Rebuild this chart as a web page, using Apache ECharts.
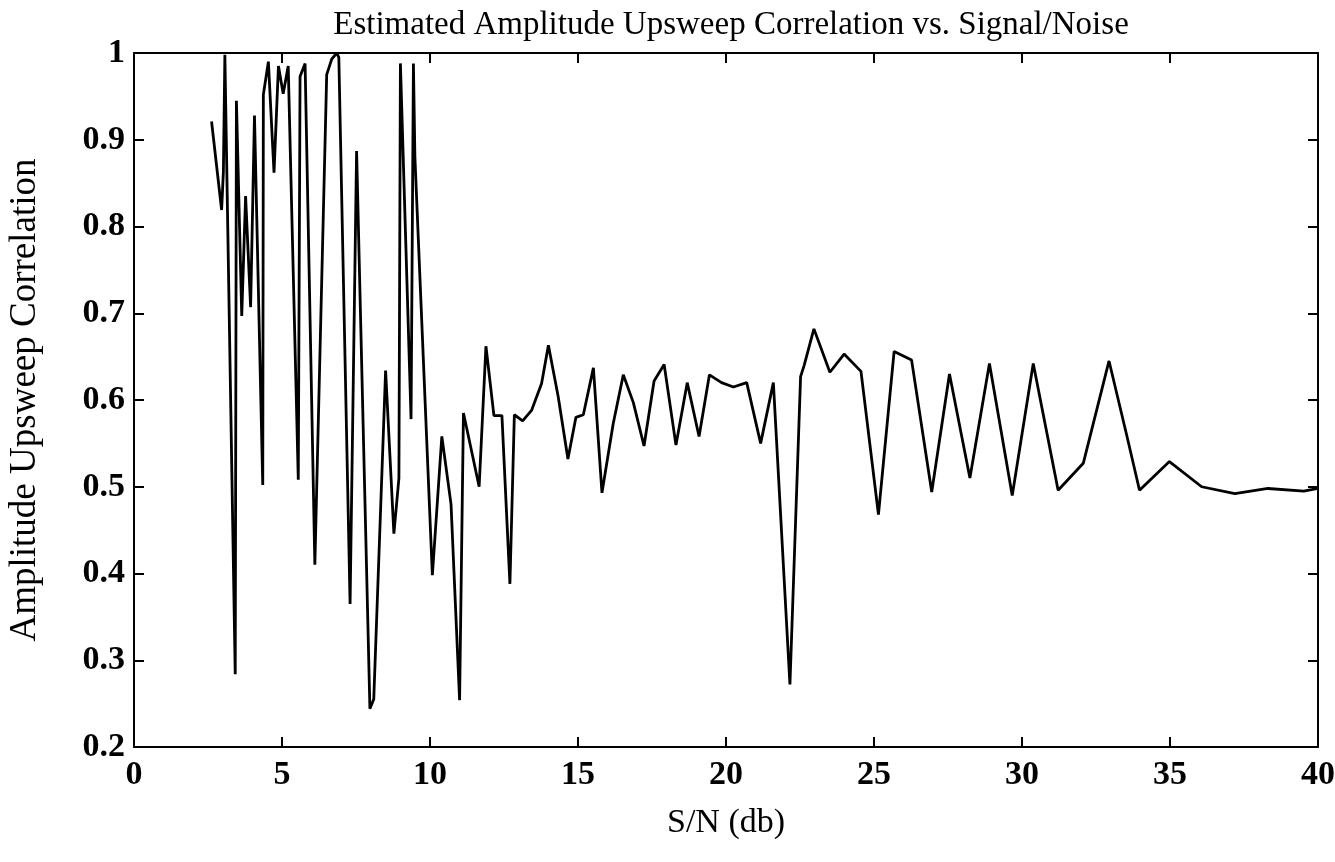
<!DOCTYPE html>
<html>
<head>
<meta charset="utf-8">
<script src="https://cdn.jsdelivr.net/npm/echarts@6/dist/echarts.min.js"></script>
<style>
html,body{margin:0;padding:0;background:#fff;}
#chart{width:1335px;height:862px;}
</style>
</head>
<body>
<div id="chart"></div>
<script>
const snr = [2.62,2.96,3.02,3.07,3.42,3.46,3.64,3.77,3.94,4.07,4.35,4.37,4.54,4.73,4.88,5.04,5.21,5.55,5.61,5.78,6.11,6.51,6.68,6.85,6.92,7.3,7.52,7.97,8.1,8.5,8.78,8.95,9.0,9.36,9.44,9.49,10.08,10.4,10.71,11.0,11.13,11.3,11.66,11.89,12.16,12.43,12.7,12.85,13.13,13.43,13.77,14.0,14.33,14.66,14.93,15.18,15.52,15.81,16.19,16.53,16.87,17.23,17.57,17.91,18.31,18.69,19.09,19.44,19.85,20.25,20.7,21.17,21.6,22.16,22.52,22.64,22.97,23.51,23.99,24.56,25.15,25.68,26.27,26.95,27.55,28.24,28.9,29.67,30.38,31.22,32.07,32.94,33.52,33.97,34.98,36.07,37.19,38.31,39.52,40.0];
const corr = [0.921,0.819,0.863,0.998,0.284,0.945,0.697,0.835,0.707,0.928,0.502,0.952,0.99,0.862,0.985,0.953,0.985,0.508,0.973,0.988,0.41,0.975,0.993,1.0,0.995,0.365,0.887,0.244,0.255,0.634,0.446,0.51,0.988,0.578,0.988,0.88,0.398,0.558,0.48,0.254,0.585,0.558,0.5,0.662,0.582,0.582,0.388,0.583,0.576,0.588,0.619,0.663,0.604,0.532,0.58,0.583,0.637,0.493,0.573,0.629,0.597,0.547,0.622,0.641,0.548,0.62,0.558,0.629,0.62,0.615,0.62,0.55,0.62,0.272,0.627,0.64,0.682,0.632,0.653,0.633,0.468,0.656,0.646,0.494,0.63,0.51,0.642,0.49,0.642,0.496,0.527,0.645,0.562,0.496,0.529,0.5,0.492,0.498,0.495,0.498];
const xTicks = [0,5,10,15,20,25,30,35,40];
const yTicks = [0.2,0.3,0.4,0.5,0.6,0.7,0.8,0.9,1];

const serif = '"Liberation Serif","Times New Roman",serif';
const chart = echarts.init(document.getElementById('chart'), null, {renderer:'canvas'});
const data = snr.map((x,i)=>[x,corr[i]]);
const axisLineStyle = {color:'#000', width:2};
const tickStyle = {show:true, inside:true, length:10, lineStyle:{color:'#000', width:2}};
chart.setOption({
  animation:false,
  backgroundColor:'#fff',
  title:{
    text:'Estimated Amplitude Upsweep Correlation vs. Signal/Noise',
    left:726, top:4, textAlign:'center',
    textStyle:{fontFamily:serif, fontSize:33, fontWeight:'normal', color:'#000'}
  },
  grid:{left:134, right:17, top:53, bottom:115, containLabel:false, outerBoundsMode:'none'},
  xAxis:[{
    type:'value', min:0, max:40, interval:5,
    name:'S/N (db)', nameLocation:'middle', nameGap:59,
    nameTextStyle:{fontFamily:serif, fontSize:34, color:'#000'},
    axisLine:{show:true, onZero:false, lineStyle:axisLineStyle},
    axisTick:tickStyle,
    axisLabel:{fontFamily:serif, fontSize:34, fontWeight:'bold', color:'#000', margin:11,
      formatter:v=>xTicks.includes(v)?String(v):''},
    splitLine:{show:false}
  },{
    type:'value', min:0, max:40, interval:5, position:'top',
    axisLine:{show:true, onZero:false, lineStyle:axisLineStyle},
    axisTick:tickStyle,
    axisLabel:{show:false}, splitLine:{show:false}
  }],
  yAxis:[{
    type:'value', min:0.2, max:1, interval:0.1,
    name:'Amplitude Upsweep Correlation', nameLocation:'middle', nameGap:90,
    nameTextStyle:{fontFamily:serif, fontSize:37, color:'#000'},
    axisLine:{show:true, onZero:false, lineStyle:axisLineStyle},
    axisTick:tickStyle,
    axisLabel:{fontFamily:serif, fontSize:34, fontWeight:'bold', color:'#000', margin:9,
      formatter:v=>{const t=yTicks.find(t=>Math.abs(t-v)<1e-6); return t===undefined?'':String(t);}},
    splitLine:{show:false}
  },{
    type:'value', min:0.2, max:1, interval:0.1, position:'right',
    axisLine:{show:true, onZero:false, lineStyle:axisLineStyle},
    axisTick:tickStyle,
    axisLabel:{show:false}, splitLine:{show:false}
  }],
  series:[{
    type:'line', data:data, xAxisIndex:0, yAxisIndex:0,
    showSymbol:false, symbol:'none',
    lineStyle:{color:'#000', width:2.8},
    clip:true
  }]
});
</script>
</body>
</html>
